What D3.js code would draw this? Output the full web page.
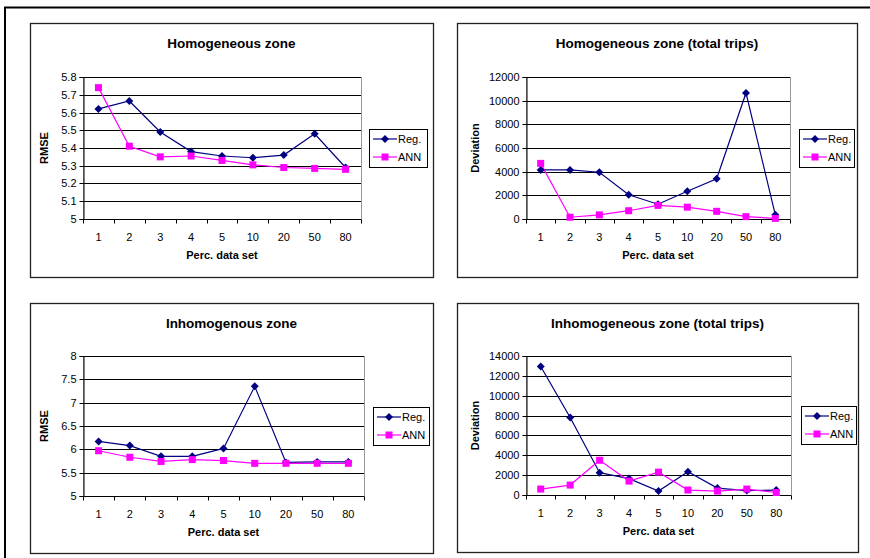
<!DOCTYPE html>
<html><head><meta charset="utf-8">
<script src="https://cdn.jsdelivr.net/npm/d3@7"></script>
<style>body{margin:0;background:#fff}svg{display:block}text{font-family:"Liberation Sans",Arial,sans-serif}</style>
</head><body>
<script>
const categories = ["1","2","3","4","5","10","20","50","80"];
const seriesNames = ["Reg.","ANN"];

const homRmseReg = [5.62,5.665,5.49,5.38,5.355,5.345,5.36,5.48,5.29];
const homRmseAnn = [5.74,5.41,5.35,5.355,5.33,5.305,5.29,5.285,5.28];
const homRmseTicks = [5,5.1,5.2,5.3,5.4,5.5,5.6,5.7,5.8];

const homTripsReg = [4150,4150,3950,2050,1250,2350,3400,10650,350];
const homTripsAnn = [4700,150,350,700,1150,1000,650,200,50];
const homTripsTicks = [0,2000,4000,6000,8000,10000,12000];

const inhRmseReg = [6.17,6.08,5.85,5.85,6.02,7.35,5.72,5.73,5.73];
const inhRmseAnn = [5.97,5.83,5.74,5.78,5.76,5.70,5.70,5.70,5.70];
const inhRmseTicks = [5,5.5,6,6.5,7,7.5,8];

const inhTripsReg = [12950,7800,2250,1650,400,2350,700,450,500];
const inhTripsAnn = [600,1000,3500,1400,2300,500,400,600,250];
const inhTripsTicks = [0,2000,4000,6000,8000,10000,12000,14000];

const titles = ["Homogeneous zone","Homogeneous zone (total trips)","Inhomogenous zone","Inhomogeneous zone (total trips)"];
const yTitles = ["RMSE","Deviation","RMSE","Deviation"];
const xTitle = "Perc. data set";

const W = 870, H = 558;
const svg = d3.select("body").append("svg").attr("width",W).attr("height",H);

svg.append("path").attr("d","M5,558 L5,7.5 L870,7.5").attr("fill","none").attr("stroke","#000").attr("stroke-width",2);

const panels = [
  {frame:[30,23,433,277], plot:[83,77,361,219], legend:[369,129,427,167], reg:homRmseReg, ann:homRmseAnn, ticks:homRmseTicks, yOff:35},
  {frame:[457,23,857,277], plot:[526,77,790,219], legend:[799,129,854,167], reg:homTripsReg, ann:homTripsAnn, ticks:homTripsTicks, yOff:47},
  {frame:[30,303,433,553], plot:[83,356,364,496], legend:[373,407,429,445], reg:inhRmseReg, ann:inhRmseAnn, ticks:inhRmseTicks, yOff:35},
  {frame:[457,303,858,552], plot:[526,356,791,495], legend:[801,406,856,444], reg:inhTripsReg, ann:inhTripsAnn, ticks:inhTripsTicks, yOff:47}
];

const navy = "#000080", mag = "#FF00FF";
const diamondPath = "M0,-4L4,0L0,4L-4,0Z";

panels.forEach((p,i)=>{
  const g = svg.append("g");
  const [fx0,fy0,fx1,fy1] = p.frame;
  g.append("rect").attr("x",fx0+0.5).attr("y",fy0+0.5).attr("width",fx1-fx0).attr("height",fy1-fy0)
    .attr("fill","#fff").attr("stroke","#222").attr("stroke-width",1.3);
  const [px0,py0,px1,py1] = p.plot;
  const x = d3.scaleBand().domain(categories).range([px0,px1]);
  const y = d3.scaleLinear().domain([p.ticks[0],p.ticks[p.ticks.length-1]]).range([py1,py0]);
  g.append("rect").attr("x",px0+0.5).attr("y",py0+0.5).attr("width",px1-px0).attr("height",py1-py0)
    .attr("fill","#fff").attr("stroke","#999").attr("stroke-width",1);
  g.selectAll(".grid").data(p.ticks.slice(1)).join("line")
    .attr("x1",px0).attr("x2",px1)
    .attr("y1",d=>Math.round(y(d))+0.5).attr("y2",d=>Math.round(y(d))+0.5)
    .attr("stroke","#000").attr("stroke-width",1);
  const ya = d3.axisLeft(y).tickValues(p.ticks).tickSize(4).tickPadding(3).tickFormat(d=>String(+d.toFixed(2)));
  const yg = g.append("g").attr("transform",`translate(${px0+0.5},0)`).call(ya);
  yg.select(".domain").attr("stroke","#000");
  yg.selectAll(".tick line").attr("stroke","#000");
  yg.selectAll(".tick").attr("transform",d=>`translate(0,${Math.round(y(d))+0.5})`);
  yg.selectAll("text").attr("font-size",11).attr("fill","#000").attr("font-family","Liberation Sans, Arial, sans-serif");
  const xg = g.append("g").attr("transform",`translate(0,${py1+0.5})`);
  xg.append("line").attr("x1",px0).attr("x2",px1).attr("stroke","#000");
  const bounds = categories.map(c=>x(c)).concat([px1]);
  xg.selectAll(".xt").data(bounds).join("line")
    .attr("x1",d=>Math.round(d)+0.5).attr("x2",d=>Math.round(d)+0.5).attr("y1",0).attr("y2",4).attr("stroke","#000");
  xg.selectAll(".xl").data(categories).join("text")
    .attr("x",d=>x(d)+x.bandwidth()/2).attr("y",21).attr("text-anchor","middle").attr("font-size",11).text(d=>d);
  g.append("text").attr("x",(fx0+fx1)/2).attr("y",fy0+25).attr("text-anchor","middle")
    .attr("font-size",13.5).attr("font-weight","bold").text(titles[i]);
  g.append("text").attr("x",(px0+px1)/2).attr("y",py1+40).attr("text-anchor","middle")
    .attr("font-size",11).attr("font-weight","bold").text(xTitle);
  g.append("text").attr("transform",`translate(${px0-p.yOff},${(py0+py1)/2}) rotate(-90)`).attr("text-anchor","middle")
    .attr("font-size",11).attr("font-weight","bold").text(yTitles[i]);
  const cx = (d,j)=>x(categories[j])+x.bandwidth()/2;
  const line = d3.line().x(cx).y(d=>y(d));
  g.append("path").datum(p.reg).attr("d",line).attr("fill","none").attr("stroke",navy).attr("stroke-width",1.2);
  g.append("path").datum(p.ann).attr("d",line).attr("fill","none").attr("stroke",mag).attr("stroke-width",1.2);
  g.selectAll(".rm").data(p.reg).join("path")
    .attr("d",diamondPath).attr("transform",(d,j)=>`translate(${cx(d,j)},${y(d)})`).attr("fill",navy);
  g.selectAll(".am").data(p.ann).join("rect")
    .attr("x",(d,j)=>cx(d,j)-3.5).attr("y",d=>y(d)-3.5).attr("width",7).attr("height",7).attr("fill",mag);
  const [lx0,ly0,lx1,ly1] = p.legend;
  g.append("rect").attr("x",lx0+0.5).attr("y",ly0+0.5).attr("width",lx1-lx0).attr("height",ly1-ly0)
    .attr("fill","#fff").attr("stroke","#000").attr("stroke-width",1);
  const items = [{n:seriesNames[0],c:navy,t:"d"},{n:seriesNames[1],c:mag,t:"s"}];
  items.forEach((it,k)=>{
    const yy = ly0 + 10 + k*18;
    g.append("line").attr("x1",lx0+4).attr("x2",lx0+28).attr("y1",yy).attr("y2",yy).attr("stroke",it.c).attr("stroke-width",1.2);
    if(it.t==="d") g.append("path").attr("d",diamondPath).attr("transform",`translate(${lx0+16},${yy})`).attr("fill",it.c);
    else g.append("rect").attr("x",lx0+12.5).attr("y",yy-3.5).attr("width",7).attr("height",7).attr("fill",it.c);
    g.append("text").attr("x",lx0+29).attr("y",yy+4).attr("font-size",11).text(it.n);
  });
});
</script>
</body></html>
